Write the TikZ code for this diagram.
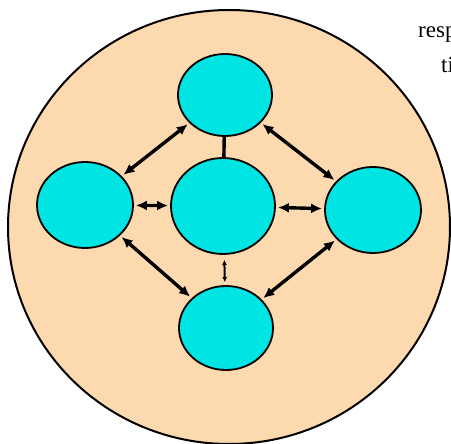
\documentclass[tikz,border=0pt]{standalone}
\usepackage{fontspec}
\setmainfont{Liberation Serif}
\usepackage{tikz}
\usetikzlibrary{shapes.geometric, arrows.meta}
\definecolor{peach}{RGB}{253, 217, 176}
\definecolor{aqua}{RGB}{0, 228, 228}

\begin{document}
\begin{tikzpicture}[x=1pt, y=-1pt,
    cell/.style={ellipse, draw, line width=1.8pt, fill=aqua, inner sep=0pt},
    link/.style={{Latex[length=11pt, width=10pt]}-{Latex[length=11pt, width=10pt]},
      line width=3.4pt, shorten <=2pt, shorten >=2pt}]
  \useasboundingbox (0, 0) rectangle (451, 444);
  \draw[line width=2pt, fill=peach] (229, 227) ellipse (221 and 217);
  \node[cell, minimum width=94pt, minimum height=82pt] (upper) at (225, 95) {};
  \node[cell, minimum width=96pt, minimum height=86pt] (west) at (85, 205) {};
  \node[cell, minimum width=104pt, minimum height=96pt] (hub) at (223, 206) {};
  \node[cell, minimum width=96pt, minimum height=86pt] (east) at (373, 210) {};
  \node[cell, minimum width=94pt, minimum height=84pt] (lower) at (226, 328) {};
  \draw[link] (west) -- (upper);
  \draw[link] (upper) -- (east);
  \draw[line width=3.4pt] (upper) -- (hub);
  \draw[link] (west) -- (hub);
  \draw[link] (hub) -- (east);
  \draw[{Latex[length=5pt, width=5pt]}-{Latex[length=5pt, width=5pt]},
    line width=2pt, shorten <=5pt, shorten >=3pt] (hub) -- (lower);
  \draw[link] (west) -- (lower);
  \draw[link] (east) -- (lower);
  % cut-off page text on the right
  \node[anchor=base west, inner sep=0pt, font=\fontsize{23}{23}\selectfont] (resp) at (418, 38) {resp};
  \node[anchor=base west, inner sep=0pt, font=\fontsize{23}{23}\selectfont] (ti) at (441, 73) {ti};
\end{tikzpicture}
\end{document}
